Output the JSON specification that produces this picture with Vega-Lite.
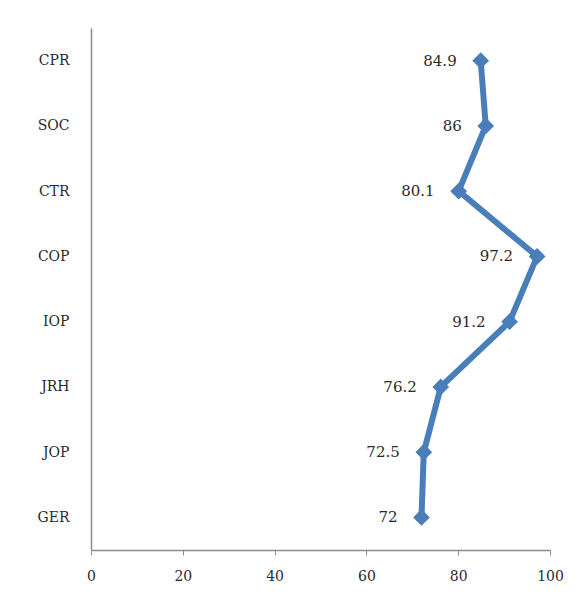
{
  "$schema": "https://vega.github.io/schema/vega-lite/v6.json",
  "width": 459,
  "height": 522,
  "autosize": {"type": "none"},
  "padding": {"left": 91, "top": 28, "right": 28, "bottom": 53},
  "background": "white",
  "config": {
    "view": {"stroke": null},
    "font": "DejaVu Serif"
  },
  "data": {
    "values": [
      {"rank": 1, "code": "CPR", "score": 84.9},
      {"rank": 2, "code": "SOC", "score": 86},
      {"rank": 3, "code": "CTR", "score": 80.1},
      {"rank": 4, "code": "COP", "score": 97.2},
      {"rank": 5, "code": "IOP", "score": 91.2},
      {"rank": 6, "code": "JRH", "score": 76.2},
      {"rank": 7, "code": "JOP", "score": 72.5},
      {"rank": 8, "code": "GER", "score": 72}
    ]
  },
  "encoding": {
    "y": {
      "field": "code",
      "type": "nominal",
      "sort": {"field": "rank", "order": "ascending"},
      "scale": {"paddingInner": 0, "paddingOuter": 0},
      "axis": {
        "title": null,
        "ticks": false,
        "grid": false,
        "domainColor": "#8c8c8c",
        "domainWidth": 1.5,
        "labelPadding": 22,
        "labelFont": "DejaVu Serif",
        "labelFontSize": 14,
        "labelColor": "#2a2a2a"
      }
    },
    "x": {
      "field": "score",
      "type": "quantitative",
      "scale": {"domain": [0, 100], "nice": false},
      "axis": {
        "title": null,
        "values": [0, 20, 40, 60, 80, 100],
        "grid": false,
        "tickSize": 5,
        "tickColor": "#8c8c8c",
        "domainColor": "#8c8c8c",
        "domainWidth": 1.5,
        "labelPadding": 14,
        "labelFont": "DejaVu Serif",
        "labelFontSize": 14,
        "labelColor": "#2a2a2a",
        "labelFlush": false
      }
    }
  },
  "layer": [
    {
      "mark": {"type": "line", "color": "#4a7ebb", "strokeWidth": 6, "strokeJoin": "miter"},
      "encoding": {"order": {"field": "rank", "type": "quantitative"}}
    },
    {
      "mark": {"type": "point", "shape": "diamond", "filled": true, "size": 280, "color": "#4a7ebb", "opacity": 1}
    },
    {
      "mark": {"type": "text", "align": "right", "baseline": "middle", "dx": -24, "font": "DejaVu Serif", "fontSize": 15, "color": "#2a2a2a"},
      "encoding": {"text": {"field": "score", "type": "quantitative"}}
    }
  ]
}
